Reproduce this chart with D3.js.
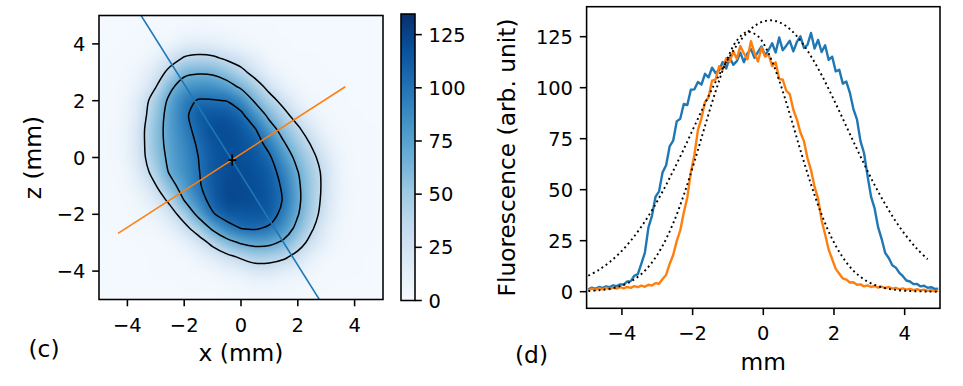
<!DOCTYPE html>
<html><head><meta charset="utf-8">
<script src="https://cdn.jsdelivr.net/npm/d3@7"></script>
<style>
body{margin:0;background:#fff;}
svg{display:block;font-family:'DejaVu Sans',sans-serif;}
</style></head><body>
<svg id="fig" width="963" height="386"></svg>
<script>
// ---------------- DATA ----------------
// (c) intensity map, rows from z = 5 (top) to z = -5 (bottom), columns x = -5 .. 5
const mapX = [-5,-4.5,-4,-3.5,-3,-2.5,-2,-1.5,-1,-0.5,0,0.5,1,1.5,2,2.5,3,3.5,4,4.5,5];
const mapZ = [5,4.5,4,3.5,3,2.5,2,1.5,1,0.5,0,-0.5,-1,-1.5,-2,-2.5,-3,-3.5,-4,-4.5,-5];
const intensity = [
 [2.5,2.5,2.5,2.5,2.6,2.9,3.2,3.3,3.2,3.0,2.8,2.6,2.5,2.5,2.5,2.5,2.5,2.5,2.5,2.5,2.5],
 [2.5,2.5,2.5,2.7,3.0,3.6,4.8,5.2,5.0,4.4,3.6,3.0,2.7,2.5,2.5,2.5,2.5,2.5,2.5,2.5,2.5],
 [2.5,2.5,2.7,3.2,5.0,7.0,14,16,14,11,7.0,4.4,3.3,2.8,2.5,2.5,2.5,2.5,2.5,2.5,2.5],
 [2.5,2.8,3.3,5.0,10.5,23,36,40,38,30,22,13,5.0,3.6,3.0,2.7,2.5,2.5,2.5,2.5,2.5],
 [2.6,3.0,3.8,8.0,21,41,61,64.5,63,54,41,25,11.5,5.5,3.6,3.0,2.7,2.5,2.5,2.5,2.5],
 [2.7,3.3,5.0,13,33,61.5,79,84.7,83.6,77,62.5,45.4,26,11.5,5.5,3.6,3.0,2.7,2.5,2.5,2.5],
 [2.8,3.5,6.5,21,47.4,73,92.8,103,102.5,100.5,88,63.5,43.8,26,11,5.0,3.4,2.8,2.5,2.5,2.5],
 [2.9,3.6,7.5,24,52.7,77.2,96,111.8,114.9,113.9,105.8,84.3,60.5,41.4,23,9.5,4.5,3.3,2.8,2.5,2.5],
 [3.0,3.8,9.0,28,56.2,77,93.2,108.5,119.1,119.8,113.5,102,77.7,56.6,38,19,7.0,3.8,3.0,2.7,2.5],
 [3.0,3.8,9.0,28,56.2,75.7,89.8,104,115.6,119.8,117,110.4,93.2,69.3,49.6,31,12.5,5.0,3.3,2.8,2.5],
 [3.0,3.7,8.5,27,52.9,73.4,87.2,101,114.2,119.1,118.8,114.9,104,82.1,59.2,40.2,20,6.5,3.6,2.9,2.6],
 [2.8,3.5,6.5,22,45,70.2,84.9,99.8,113.5,119.8,120.5,117.4,110.4,91.6,67.5,46.3,25,7.5,3.6,2.9,2.6],
 [2.9,3.5,5.5,14,33,57.9,78,98,112.8,121.9,121.2,118.8,112.8,97.3,71,48.3,25.5,8.0,3.7,2.9,2.6],
 [2.7,3.0,3.7,7.5,19,40,67.5,89.7,109.5,121.2,121.2,119.1,113.5,99.5,72,47.6,24,7.5,3.6,2.9,2.6],
 [2.7,3.0,3.6,5.0,10.5,23,45.3,73.4,98.5,111.8,113.5,114.9,111.4,93.5,68.5,44.2,21,6.5,3.5,2.8,2.6],
 [2.6,2.7,3.0,3.7,5.5,12,26,45.8,70.9,90.1,101,103,97.4,82,59.4,36.3,15,5.0,3.4,2.8,2.6],
 [2.6,2.6,2.6,2.9,3.4,5.0,10.5,22,40.4,57.6,69.5,74.6,72.6,62.4,45,25,10,4.5,3.2,2.8,2.6],
 [2.6,2.6,2.6,2.6,2.9,3.4,4.5,9.5,17,27.5,37.2,45.4,44.4,38.3,26,12,5.0,3.4,2.9,2.6,2.6],
 [2.6,2.6,2.6,2.6,2.7,2.8,3.0,3.8,6.0,10,14,20,20,14.5,11,5.5,3.6,2.9,2.7,2.6,2.6],
 [2.5,2.5,2.5,2.6,2.6,2.6,2.7,2.9,3.2,4.0,5.0,6.5,6.5,5.0,3.8,3.2,2.8,2.6,2.5,2.5,2.5],
 [2.5,2.5,2.5,2.5,2.5,2.5,2.5,2.5,2.5,2.8,3.1,3.5,3.5,3.1,2.8,2.5,2.5,2.5,2.5,2.5,2.5]
];
const colorMax = 134.7;
const contourLevels = [34, 67, 101];
const colorbarTicks = [0, 25, 50, 75, 100, 125];
const mapTicks = [-4, -2, 0, 2, 4];
// cut lines drawn on the map (endpoints, mm)
const cutMajorX = [-3.55, 2.79], cutMajorZ = [5.05, -5.05];
const cutMinorX = [-4.33, 3.67], cutMinorZ = [-2.67, 2.49];
const centerX = [-0.31], centerZ = [-0.09];

// (d) profiles along the cuts
const profileX = d3.range(100).map(i => -4.95 + 0.1 * i);
const profileMajor = [
 1.2,2.0,1.4,2.3,1.8,2.6,2.2,3.1,2.7,3.6,
 3.5,5.0,5.2,7.8,8.6,13.8,19.2,31.5,37.2,46.5,
 49.2,58.5,62.0,71.2,74.0,83.5,84.8,92.0,91.5,99.0,
 99.2,102.8,101.5,106.8,105.0,109.8,107.2,108.5,112.6,109.4,
 114.8,111.2,113.0,117.2,112.5,116.8,118.9,114.6,117.5,120.2,
 115.8,118.5,121.8,117.2,124.6,118.4,120.6,123.0,117.8,122.4,
 125.2,119.5,121.0,126.8,119.2,123.4,117.5,120.8,113.6,115.2,
 108.0,108.8,102.0,103.0,97.5,89.5,84.5,73.8,68.0,56.8,
 46.5,40.8,31.5,25.8,19.0,16.5,13.0,11.8,9.2,7.6,
 5.5,5.0,3.7,3.8,2.6,2.9,1.9,2.2,1.4,1.5];
const profileMinor = [
 0.6,1.5,0.9,1.7,1.2,1.9,1.3,2.0,1.5,2.2,
 1.6,2.4,1.9,2.7,2.2,3.0,2.4,3.4,3.0,4.2,
 3.9,6.2,8.2,13.6,18.0,24.8,30.0,38.8,46.2,58.5,
 67.0,79.2,85.0,93.0,95.2,103.5,104.0,110.5,108.8,114.5,
 112.6,117.8,114.2,120.4,116.8,113.9,122.8,117.0,112.8,119.6,
 115.2,116.4,110.6,112.4,104.2,104.0,98.5,96.8,89.2,84.5,
 78.0,73.8,65.5,59.6,51.5,45.6,35.0,28.0,20.6,15.9,
 11.2,8.8,6.5,5.9,4.5,4.6,3.4,3.6,2.6,3.1,
 2.3,2.8,2.0,2.5,1.8,2.3,1.5,1.9,1.2,1.6,
 1.0,1.4,0.8,1.2,0.6,1.0,0.4,0.8,0.2,0.5];
// Gaussian fits (dotted)
const fitWideX = d3.range(33).map(i => -4.95 + 0.3 * i);
const fitWide = [7.8,10.7,14.5,19.2,25.0,31.9,39.9,49.1,59.2,69.9,81.1,92.2,102.9,112.5,120.7,127.1,131.3,133.0,132.1,128.8,123.1,115.4,106.2,95.8,84.8,73.6,62.7,52.3,42.9,34.4,27.2,21.0,15.9];
const fitNarrowX = d3.range(34).map(i => -4.95 + 0.3 * i);
const fitNarrow = [0.32,0.69,1.40,2.71,4.98,8.67,14.33,22.5,33.5,47.4,63.7,81.2,98.2,112.8,123.1,127.4,125.2,116.8,103.5,87.0,69.4,52.6,37.8,25.8,16.8,10.3,6.0,3.34,1.76,0.88,0.42,0.19,0.08,0.03];
const profileTicksX = [-4, -2, 0, 2, 4];
const profileTicksY = [0, 25, 50, 75, 100, 125];

// ---------------- STYLE ----------------
const FS_TICK = 19.44, FS_LABEL = 23.33;
const TL = 6.8, TP = 6.8, LW = 1.56;
const C_BLUE = '#1f77b4', C_ORANGE = '#ff7f0e';
const bluesStops = ["#f7fbff","#deebf7","#c6dbef","#9ecae1","#6baed6","#4292c6","#2171b5","#08519c","#08306b"];

const svg = d3.select('#fig');
const defs = svg.append('defs');
const fmt = d3.format('d');

// ---------------- (c) MAP ----------------
const L = {x0: 99, x1: 383, y0: 15.5, y1: 299.5};
const xL = d3.scaleLinear().domain([-5, 5]).range([L.x0, L.x1]);
const yL = d3.scaleLinear().domain([-5, 5]).range([L.y1, L.y0]);
const color = d3.scaleLinear()
  .domain(bluesStops.map((c, i) => i / (bluesStops.length - 1) * colorMax))
  .range(bluesStops).interpolate(d3.interpolateRgb).clamp(true);

defs.append('clipPath').attr('id', 'clipL').append('rect')
  .attr('x', L.x0).attr('y', L.y0).attr('width', L.x1 - L.x0).attr('height', L.y1 - L.y0);

const nx = mapX.length, nz = mapZ.length;
const step = mapX[1] - mapX[0];
const small = document.createElement('canvas');
small.width = nx; small.height = nz;
const sctx = small.getContext('2d');
const imgData = sctx.createImageData(nx, nz);
intensity.forEach((row, j) => row.forEach((v, i) => {
  const c = d3.rgb(color(v)); const k = (j * nx + i) * 4;
  imgData.data[k] = c.r; imgData.data[k + 1] = c.g; imgData.data[k + 2] = c.b; imgData.data[k + 3] = 255;
}));
sctx.putImageData(imgData, 0, 0);
const px0 = xL(mapX[0] - step / 2), px1 = xL(mapX[nx - 1] + step / 2);
const py0 = yL(mapZ[0] + step / 2), py1 = yL(mapZ[nz - 1] - step / 2);
const big = document.createElement('canvas');
big.width = Math.round(px1 - px0); big.height = Math.round(py1 - py0);
const bctx = big.getContext('2d');
bctx.imageSmoothingEnabled = true; bctx.imageSmoothingQuality = 'high';
bctx.drawImage(small, 0, 0, big.width, big.height);

const gL = svg.append('g');
gL.append('image').attr('href', big.toDataURL())
  .attr('x', px0).attr('y', py0).attr('width', px1 - px0).attr('height', py1 - py0)
  .attr('preserveAspectRatio', 'none').attr('clip-path', 'url(#clipL)');

// contours
const contours = d3.contours().size([nx, nz]).thresholds(contourLevels)(intensity.flat());
const gxc = c => mapX[0] + (c - 0.5) * step;
const gzc = r => mapZ[0] - (r - 0.5) * step;
const ringLine = d3.line().x(p => xL(gxc(p[0]))).y(p => yL(gzc(p[1]))).curve(d3.curveCatmullRomClosed.alpha(0.5));
const gC = gL.append('g').attr('clip-path', 'url(#clipL)');
contours.forEach(c => c.coordinates.forEach(poly => poly.forEach(ring => {
  gC.append('path').attr('d', ringLine(ring.slice(0, -1)))
    .attr('fill', 'none').attr('stroke', '#000').attr('stroke-width', 1.5);
})));

// cut lines
const cutLine = d3.line().x(d => xL(d[0])).y(d => yL(d[1]));
gC.append('path').attr('d', cutLine(cutMajorX.map((x, i) => [x, cutMajorZ[i]])))
  .attr('stroke', C_BLUE).attr('stroke-width', 1.6).attr('fill', 'none');
gC.append('path').attr('d', cutLine(cutMinorX.map((x, i) => [x, cutMinorZ[i]])))
  .attr('stroke', C_ORANGE).attr('stroke-width', 1.6).attr('fill', 'none');
centerX.forEach((x, i) => {
  gC.append('path').attr('transform', `translate(${xL(x)},${yL(centerZ[i])})`)
    .attr('d', 'M-4,0H4M0,-5.5V5.5').attr('stroke', '#000').attr('stroke-width', 1.8);
});

// frame + ticks
gL.append('rect').attr('x', L.x0).attr('y', L.y0).attr('width', L.x1 - L.x0).attr('height', L.y1 - L.y0)
  .attr('fill', 'none').attr('stroke', '#000').attr('stroke-width', LW);
mapTicks.forEach(t => {
  gL.append('line').attr('x1', xL(t)).attr('x2', xL(t)).attr('y1', L.y1).attr('y2', L.y1 + TL).attr('stroke', '#000').attr('stroke-width', LW);
  gL.append('text').attr('x', xL(t)).attr('y', L.y1 + 32).attr('text-anchor', 'middle').attr('font-size', FS_TICK).text(fmt(t));
  gL.append('line').attr('y1', yL(t)).attr('y2', yL(t)).attr('x1', L.x0).attr('x2', L.x0 - TL).attr('stroke', '#000').attr('stroke-width', LW);
  gL.append('text').attr('x', L.x0 - TL - TP).attr('y', yL(t) + 7.1).attr('text-anchor', 'end').attr('font-size', FS_TICK).text(fmt(t));
});
svg.append('text').attr('x', (L.x0 + L.x1) / 2).attr('y', 360.5).attr('text-anchor', 'middle').attr('font-size', FS_LABEL).text('x (mm)');
svg.append('text').attr('transform', `translate(41,${(L.y0 + L.y1) / 2}) rotate(-90)`).attr('text-anchor', 'middle').attr('font-size', FS_LABEL).text('z (mm)');
svg.append('text').attr('x', 28.5).attr('y', 356.5).attr('font-size', FS_LABEL).text('(c)');

// colorbar
const CB = {x0: 401, x1: 415, y0: 14, y1: 300.5};
const yCB = d3.scaleLinear().domain([0, colorMax]).range([CB.y1, CB.y0]);
const grad = defs.append('linearGradient').attr('id', 'cbGrad').attr('x1', 0).attr('x2', 0).attr('y1', 1).attr('y2', 0);
d3.range(0, 1.0001, 0.02).forEach(f => grad.append('stop').attr('offset', f).attr('stop-color', color(f * colorMax)));
svg.append('rect').attr('x', CB.x0).attr('y', CB.y0).attr('width', CB.x1 - CB.x0).attr('height', CB.y1 - CB.y0)
  .attr('fill', 'url(#cbGrad)').attr('stroke', '#000').attr('stroke-width', LW);
colorbarTicks.forEach(t => {
  svg.append('line').attr('x1', CB.x1).attr('x2', CB.x1 + TL).attr('y1', yCB(t)).attr('y2', yCB(t)).attr('stroke', '#000').attr('stroke-width', LW);
  svg.append('text').attr('x', CB.x1 + TL + TP).attr('y', yCB(t) + 7.1).attr('font-size', FS_TICK).text(fmt(t));
});

// ---------------- (d) PROFILES ----------------
const R = {x0: 586.6, x1: 940, y0: 6.7, y1: 308.3};
const xR = d3.scaleLinear().domain([-5, 5]).range([R.x0, R.x1]);
const yR = d3.scaleLinear().domain([-8.14, 139.7]).range([R.y1, R.y0]);
defs.append('clipPath').attr('id', 'clipR').append('rect')
  .attr('x', R.x0).attr('y', R.y0).attr('width', R.x1 - R.x0).attr('height', R.y1 - R.y0);
const gR = svg.append('g');
const gRc = gR.append('g').attr('clip-path', 'url(#clipR)');
const pLine = d3.line().x(d => xR(d[0])).y(d => yR(d[1]));
gRc.append('path').attr('d', pLine(profileX.map((x, i) => [x, profileMajor[i]])))
  .attr('fill', 'none').attr('stroke', C_BLUE).attr('stroke-width', 2.4).attr('stroke-linejoin', 'round');
gRc.append('path').attr('d', pLine(profileX.map((x, i) => [x, profileMinor[i]])))
  .attr('fill', 'none').attr('stroke', C_ORANGE).attr('stroke-width', 2.4).attr('stroke-linejoin', 'round');
const fLine = d3.line().x(d => xR(d[0])).y(d => yR(d[1])).curve(d3.curveCatmullRom);
gRc.append('path').attr('d', fLine(fitNarrowX.map((x, i) => [x, fitNarrow[i]])))
  .attr('fill', 'none').attr('stroke', '#000').attr('stroke-width', 1.9).attr('stroke-dasharray', '1.9,3.2');
gRc.append('path').attr('d', fLine(fitWideX.map((x, i) => [x, fitWide[i]])))
  .attr('fill', 'none').attr('stroke', '#000').attr('stroke-width', 1.9).attr('stroke-dasharray', '1.9,3.2');

gR.append('rect').attr('x', R.x0).attr('y', R.y0).attr('width', R.x1 - R.x0).attr('height', R.y1 - R.y0)
  .attr('fill', 'none').attr('stroke', '#000').attr('stroke-width', LW);
profileTicksX.forEach(t => {
  gR.append('line').attr('x1', xR(t)).attr('x2', xR(t)).attr('y1', R.y1).attr('y2', R.y1 + TL).attr('stroke', '#000').attr('stroke-width', LW);
  gR.append('text').attr('x', xR(t)).attr('y', R.y1 + 32).attr('text-anchor', 'middle').attr('font-size', FS_TICK).text(fmt(t));
});
profileTicksY.forEach(t => {
  gR.append('line').attr('y1', yR(t)).attr('y2', yR(t)).attr('x1', R.x0).attr('x2', R.x0 - TL).attr('stroke', '#000').attr('stroke-width', LW);
  gR.append('text').attr('x', R.x0 - TL - TP).attr('y', yR(t) + 7.1).attr('text-anchor', 'end').attr('font-size', FS_TICK).text(fmt(t));
});
svg.append('text').attr('x', (R.x0 + R.x1) / 2).attr('y', 370).attr('text-anchor', 'middle').attr('font-size', FS_LABEL).text('mm');
svg.append('text').attr('transform', `translate(515,${(R.y0 + R.y1) / 2}) rotate(-90)`).attr('text-anchor', 'middle').attr('font-size', FS_LABEL).text('Fluorescence (arb. unit)');
svg.append('text').attr('x', 515).attr('y', 362.5).attr('font-size', FS_LABEL).text('(d)');
</script>
</body></html>
